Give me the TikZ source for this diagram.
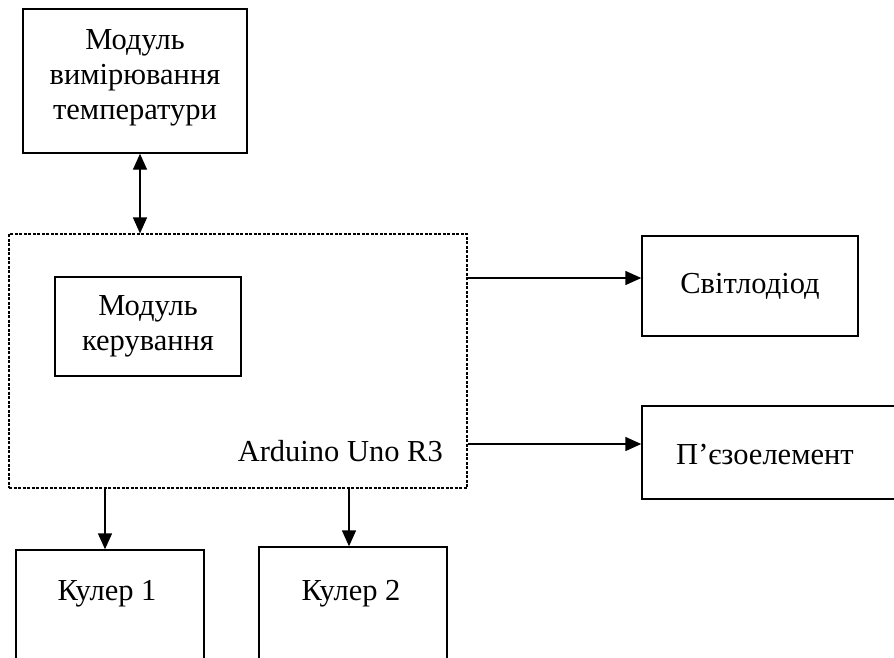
\documentclass[tikz,border=0pt]{standalone}
\usepackage{fontspec}
\setmainfont{Liberation Serif}
\usetikzlibrary{arrows.meta}
\begin{document}
\begin{tikzpicture}[x=1pt,y=-1pt,
  box/.style={draw=black,line width=1.4pt,minimum width=#1,inner sep=0pt},
  lbl/.style={font=\fontsize{30.5}{35}\selectfont,align=center,inner sep=0pt},
  tip/.style={Triangle[length=16pt,width=14pt]},
  arr/.style={line width=1.4pt,-{Triangle[length=16pt,width=14pt]}},
  darr/.style={line width=1.4pt,{Triangle[length=16pt,width=14pt]}-{Triangle[length=16pt,width=14pt]}}]
\useasboundingbox (0,0) rectangle (894,657);
\clip (0,0) rectangle (894,657);
% top module
\node[box=224pt,minimum height=144pt] (temp) at (135,81) {};
\node[lbl] (templ) at (135,78) {Модуль\\вимірювання\\температури};
% arduino
\node[draw=black,line width=1.2pt,dash pattern=on 3pt off 1.5pt,minimum width=458pt,minimum height=254pt,inner sep=0pt] (ard) at (238,361) {};
\node[box=186pt,minimum height=99pt,lbl] (ctrl) at (148,326.5) {Модуль\\керування};
\node[lbl,anchor=base east] (ardl) at (443,461) {Arduino Uno R3};
% right
\node[box=216pt,minimum height=100pt,lbl] (led) at (750,286) {Світлодіод};
\node[box=270pt,minimum height=93pt] (piezo) at (777,452.5) {};
\node[lbl] (piezol) at (765,454) {П’єзоелемент};
% bottom
\node[box=188pt,minimum height=130pt] (c1) at (110,615) {};
\node[lbl] (c1l) at (107,594) {Кулер 1};
\node[box=188pt,minimum height=133pt] (c2) at (353,613.5) {};
\node[lbl] (c2l) at (351,594) {Кулер 2};
% connectors
\draw[darr] (temp.south -| 140,0) -- (ard.north -| 140,0);
\draw[arr] (ard.east |- 0,278) -- (led.west |- 0,278);
\draw[arr] (ard.east |- 0,444) -- (piezo.west |- 0,444);
\draw[arr] (ard.south -| 105,0) -- (c1.north -| 105,0);
\draw[arr] (ard.south -| 349,0) -- (c2.north -| 349,0);
\end{tikzpicture}
\end{document}
